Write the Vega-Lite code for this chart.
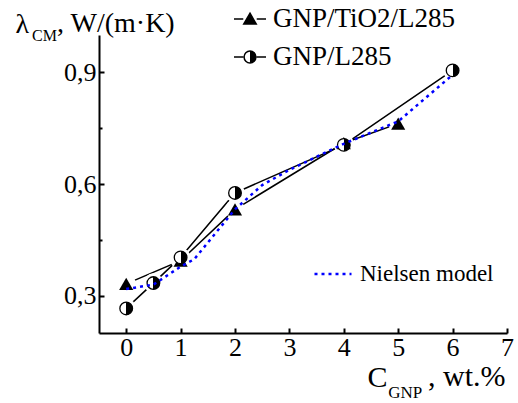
{
  "$schema": "https://vega.github.io/schema/vega-lite/v6.json",
  "width": 408,
  "height": 298,
  "autosize": {"type": "none"},
  "padding": {"left": 99, "top": 35, "right": 11, "bottom": 70},
  "background": "white",
  "config": {
    "view": {"stroke": null},
    "font": "Liberation Serif",
    "axis": {
      "grid": false,
      "domainColor": "black",
      "domainWidth": 2,
      "tickColor": "black",
      "tickWidth": 2,
      "labelColor": "black",
      "labelFont": "Liberation Serif",
      "labelFontSize": 26,
      "titleFont": "Liberation Serif",
      "titleColor": "black",
      "titleFontWeight": "normal",
      "labelFlush": false,
      "labelOverlap": false
    }
  },
  "datasets": {
    "exp": [
      {"series": "GNP/TiO2/L285", "c": 0, "k": 0.332},
      {"series": "GNP/TiO2/L285", "c": 1, "k": 0.394},
      {"series": "GNP/TiO2/L285", "c": 2, "k": 0.532},
      {"series": "GNP/TiO2/L285", "c": 4, "k": 0.71},
      {"series": "GNP/TiO2/L285", "c": 5, "k": 0.762},
      {"series": "GNP/L285", "c": 0, "k": 0.266},
      {"series": "GNP/L285", "c": 0.5, "k": 0.334},
      {"series": "GNP/L285", "c": 1, "k": 0.403},
      {"series": "GNP/L285", "c": 2, "k": 0.576},
      {"series": "GNP/L285", "c": 4, "k": 0.705},
      {"series": "GNP/L285", "c": 6, "k": 0.905}
    ],
    "model": [
      {"series": "Nielsen model", "c": 0, "k": 0.318},
      {"series": "Nielsen model", "c": 0.5, "k": 0.33},
      {"series": "Nielsen model", "c": 1, "k": 0.378},
      {"series": "Nielsen model", "c": 1.25, "k": 0.398},
      {"series": "Nielsen model", "c": 2, "k": 0.532},
      {"series": "Nielsen model", "c": 2.5, "k": 0.597},
      {"series": "Nielsen model", "c": 3, "k": 0.638},
      {"series": "Nielsen model", "c": 4, "k": 0.708},
      {"series": "Nielsen model", "c": 5, "k": 0.768},
      {"series": "Nielsen model", "c": 6, "k": 0.893}
    ]
  },
  "layer": [
    {
      "encoding": {
        "x": {
          "field": "c",
          "type": "quantitative",
          "scale": {"domain": [-0.5, 7], "nice": false, "zero": false},
          "axis": {
            "values": [0, 0.5, 1, 1.5, 2, 2.5, 3, 3.5, 4, 4.5, 5, 5.5, 6, 6.5, 7],
            "labelExpr": "datum.value % 1 === 0 ? format(datum.value, 'd') : ''",
            "tickSize": {"condition": {"test": "datum.value % 1 !== 0", "value": -3}, "value": -5},
            "labelPadding": 6,
            "title": "C",
            "titleFontSize": 30,
            "titleAlign": "left",
            "titleBaseline": "alphabetic",
            "titleAnchor": "start",
            "titleX": 268,
            "titleY": 53
          }
        },
        "y": {
          "field": "k",
          "type": "quantitative",
          "scale": {"domain": [0.2, 1.0], "nice": false, "zero": false},
          "axis": {
            "values": [0.3, 0.45, 0.6, 0.75, 0.9],
            "labelExpr": "(datum.value === 0.3 || datum.value === 0.6 || datum.value === 0.9) ? replace(format(datum.value, '.1f'), '.', ',') : ''",
            "tickSize": {"condition": {"test": "datum.value === 0.45 || datum.value === 0.75", "value": -3}, "value": -5},
            "labelPadding": 8,
            "title": "\u03bb",
            "titleFontSize": 28,
            "titleAngle": 0,
            "titleAlign": "left",
            "titleBaseline": "alphabetic",
            "titleAnchor": "start",
            "titleX": -84,
            "titleY": -3
          }
        }
      },
      "resolve": {"scale": {"shape": "independent"}, "legend": {"shape": "independent"}},
      "layer": [
        {
          "data": {"name": "exp"},
          "mark": {"type": "line", "color": "black", "strokeWidth": 1.5},
          "encoding": {"detail": {"field": "series"}}
        },
        {
          "data": {"name": "exp"},
          "mark": {"type": "point", "shape": "circle", "filled": true, "color": "white", "opacity": 1, "size": 380}
        },
        {
          "data": {"name": "exp"},
          "transform": [{"filter": "datum.series === 'GNP/TiO2/L285'"}],
          "mark": {"type": "point", "shape": "triangle-up", "filled": true, "color": "black", "opacity": 1, "size": 200}
        },
        {
          "data": {"name": "exp"},
          "transform": [{"filter": "datum.series === 'GNP/L285'"}],
          "mark": {
            "type": "point",
            "shape": "circle",
            "filled": true,
            "opacity": 1,
            "size": 160,
            "fill": {"gradient": "linear", "x1": 0, "y1": 0, "x2": 1, "y2": 0, "stops": [{"offset": 0, "color": "white"}, {"offset": 0.5, "color": "white"}, {"offset": 0.5, "color": "black"}, {"offset": 1, "color": "black"}]},
            "stroke": "black",
            "strokeWidth": 1.3
          }
        },
        {
          "data": {"name": "model"},
          "mark": {"type": "line", "strokeWidth": 2.5, "strokeDash": [3, 4]},
          "encoding": {
            "color": {
              "field": "series",
              "type": "nominal",
              "scale": {"domain": ["Nielsen model"], "range": ["#0000ff"]},
              "legend": {
                "orient": "none",
                "legendX": 214,
                "legendY": 219,
                "title": null,
                "padding": 0,
                "symbolType": "stroke",
                "symbolSize": 1369,
                "symbolStrokeWidth": 2.5,
                "symbolDash": [3, 4],
                "labelFont": "Liberation Serif",
                "labelFontSize": 23,
                "labelColor": "black",
                "labelOffset": 7,
                "labelLimit": 0
              }
            }
          }
        },
        {
          "data": {"name": "exp"},
          "transform": [{"filter": "datum.c < -100"}],
          "mark": {"type": "point", "filled": false, "fill": "black", "stroke": "black", "strokeWidth": 1.5, "opacity": 1},
          "encoding": {
            "shape": {
              "field": "series",
              "type": "nominal",
              "scale": {
                "domain": ["GNP/TiO2/L285"],
                "range": ["M-1,0H-0.42M0.42,0H1M0,-0.36L0.39,0.32L-0.39,0.32Z"]
              },
              "legend": {
                "orient": "none",
                "legendX": 134,
                "legendY": -33,
                "title": null,
                "padding": 0,
                "symbolSize": 1024,
                "symbolOpacity": 1,
                "labelFont": "Liberation Serif",
                "labelFontSize": 27,
                "labelColor": "black",
                "labelOffset": 6,
                "labelLimit": 0,
                "encode": {
                  "symbols": {
                    "stroke": {"value": "black"},
                    "strokeWidth": {"value": 1.5},
                    "strokeOpacity": {"value": 1}
                  }
                }
              }
            }
          }
        },
        {
          "data": {"name": "exp"},
          "transform": [{"filter": "datum.c < -100"}],
          "mark": {
            "type": "point",
            "filled": false,
            "opacity": 1,
            "fill": {"gradient": "linear", "x1": 0, "y1": 0, "x2": 1, "y2": 0, "stops": [{"offset": 0, "color": "white"}, {"offset": 0.5, "color": "white"}, {"offset": 0.5, "color": "black"}, {"offset": 1, "color": "black"}]},
            "stroke": "black",
            "strokeWidth": 1.5
          },
          "encoding": {
            "shape": {
              "field": "series",
              "type": "nominal",
              "scale": {
                "domain": ["GNP/L285"],
                "range": ["M-1,0H-0.42M0.42,0H1M0.37,0A0.37,0.37,0,1,1,-0.37,0A0.37,0.37,0,1,1,0.37,0Z"]
              },
              "legend": {
                "orient": "none",
                "legendX": 134,
                "legendY": 5,
                "title": null,
                "padding": 0,
                "symbolSize": 1024,
                "symbolOpacity": 1,
                "labelFont": "Liberation Serif",
                "labelFontSize": 27,
                "labelColor": "black",
                "labelOffset": 6,
                "labelLimit": 0,
                "encode": {
                  "symbols": {
                    "stroke": {"value": "black"},
                    "strokeWidth": {"value": 1.5},
                    "strokeOpacity": {"value": 1}
                  }
                }
              }
            }
          }
        }
      ]
    },
    {
      "data": {"values": [{}]},
      "mark": {"type": "text", "text": "CM", "font": "Liberation Serif", "fontSize": 16, "align": "left", "baseline": "alphabetic", "color": "black"},
      "encoding": {
        "x": {"datum": -1.732, "type": "quantitative"},
        "y": {"datum": 0.985, "type": "quantitative"}
      }
    },
    {
      "data": {"values": [{}]},
      "mark": {"type": "text", "text": ", W/(m\u00b7K)", "font": "Liberation Serif", "fontSize": 28, "align": "left", "baseline": "alphabetic", "color": "black"},
      "encoding": {
        "x": {"datum": -1.272, "type": "quantitative"},
        "y": {"datum": 1.008, "type": "quantitative"}
      }
    },
    {
      "data": {"values": [{}]},
      "mark": {"type": "text", "text": "GNP", "font": "Liberation Serif", "fontSize": 17, "align": "left", "baseline": "alphabetic", "color": "black"},
      "encoding": {
        "x": {"datum": 4.817, "type": "quantitative"},
        "y": {"datum": 0.026, "type": "quantitative"}
      }
    },
    {
      "data": {"values": [{}]},
      "mark": {"type": "text", "text": ", wt.%", "font": "Liberation Serif", "fontSize": 30, "align": "left", "baseline": "alphabetic", "color": "black"},
      "encoding": {
        "x": {"datum": 5.548, "type": "quantitative"},
        "y": {"datum": 0.0577, "type": "quantitative"}
      }
    }
  ]
}
